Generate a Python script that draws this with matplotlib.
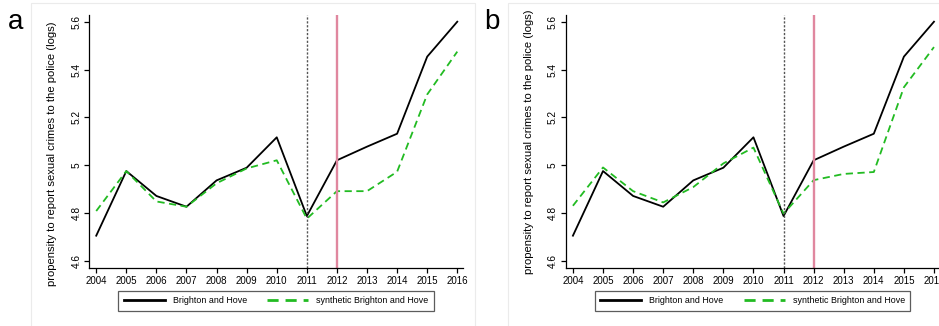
import matplotlib
matplotlib.use("Agg")
import matplotlib.pyplot as plt
from matplotlib.patches import Rectangle

plt.rcParams['font.family'] = ['Liberation Sans', 'DejaVu Sans']

years = list(range(2004, 2017))
brighton = [4.706, 4.976, 4.872, 4.827, 4.937, 4.990, 5.117, 4.788, 5.021, 5.078, 5.132, 5.454, 5.600]
synthetic_a = [4.809, 4.976, 4.849, 4.827, 4.925, 4.987, 5.021, 4.777, 4.892, 4.892, 4.973, 5.296, 5.475]
synthetic_b = [4.831, 4.991, 4.892, 4.845, 4.909, 5.008, 5.074, 4.798, 4.938, 4.964, 4.972, 5.326, 5.494]
panel_labels = ['a', 'b']
yticks = [4.6, 4.8, 5.0, 5.2, 5.4, 5.6]
ytick_labels = ['4.6', '4.8', '5', '5.2', '5.4', '5.6']
legend_labels = ['Brighton and Hove', 'synthetic Brighton and Hove']
ylabel = 'propensity to report sexual crimes to the police (logs)'
treat_year = 2011
policy_year = 2012

W, H = 939, 326
fig = plt.figure(figsize=(W / 100, H / 100), dpi=100)

def fx(px):
    return px / W

def fy(py):
    return 1 - py / H

offsets = [0, 476.7]
synths = [synthetic_a, synthetic_b]
ylabel_y = [0.452, 0.5]
for i, off in enumerate(offsets):
    # panel border
    fig.patches.append(Rectangle((fx(31 + off), fy(330)), fx(444), fy(3) - fy(330),
                                 transform=fig.transFigure, fill=False,
                                 edgecolor='#ebebeb', linewidth=0.8))
    left, right, top, bottom = 89 + off, 463 + off, 15, 268
    ax = fig.add_axes([fx(left), fy(bottom), fx(right - left), fy(top) - fy(bottom)])
    ax.plot(years, brighton, color='black', linewidth=1.3, label=legend_labels[0])
    ax.plot(years, synths[i], color='#22bb22', linewidth=1.3, linestyle=(0, (4, 2.5)),
            label=legend_labels[1])
    ax.axvline(treat_year, color='#555555', linestyle=(0, (1.6, 1.2)), linewidth=1.0)
    ax.axvline(policy_year, color='#e0879f', linewidth=1.7)
    ax.set_xlim(2003.76, 2016.19)
    ax.set_ylim(4.571, 5.628)
    ax.set_xticks(years)
    ax.set_xticklabels([str(y) for y in years], fontsize=7)
    ax.set_yticks(yticks)
    ax.set_yticklabels(ytick_labels, fontsize=7.3, rotation=90, va='center')
    ax.spines['top'].set_visible(False)
    ax.spines['right'].set_visible(False)
    for s in ('left', 'bottom'):
        ax.spines[s].set_linewidth(0.9)
    ax.tick_params(length=3.5, width=0.9, pad=2)
    ax.set_ylabel(ylabel, fontsize=8.1, labelpad=5)
    ax.yaxis.set_label_coords(-0.085, ylabel_y[i])
    leg = ax.legend(loc='upper center', bbox_to_anchor=(0.5, -0.091), ncol=2,
                    fontsize=6.4, frameon=True, fancybox=False, edgecolor='#333333',
                    handlelength=4.6, handletextpad=0.9, columnspacing=2.3,
                    borderpad=0.6, borderaxespad=0)
    leg.get_frame().set_linewidth(0.9)
    for h in leg.legend_handles:
        h.set_linewidth(2.0)
    fig.text(fx(8 + off), fy(22), panel_labels[i], fontsize=20, va='center', ha='left')

fig.savefig('out.png', dpi=100)
